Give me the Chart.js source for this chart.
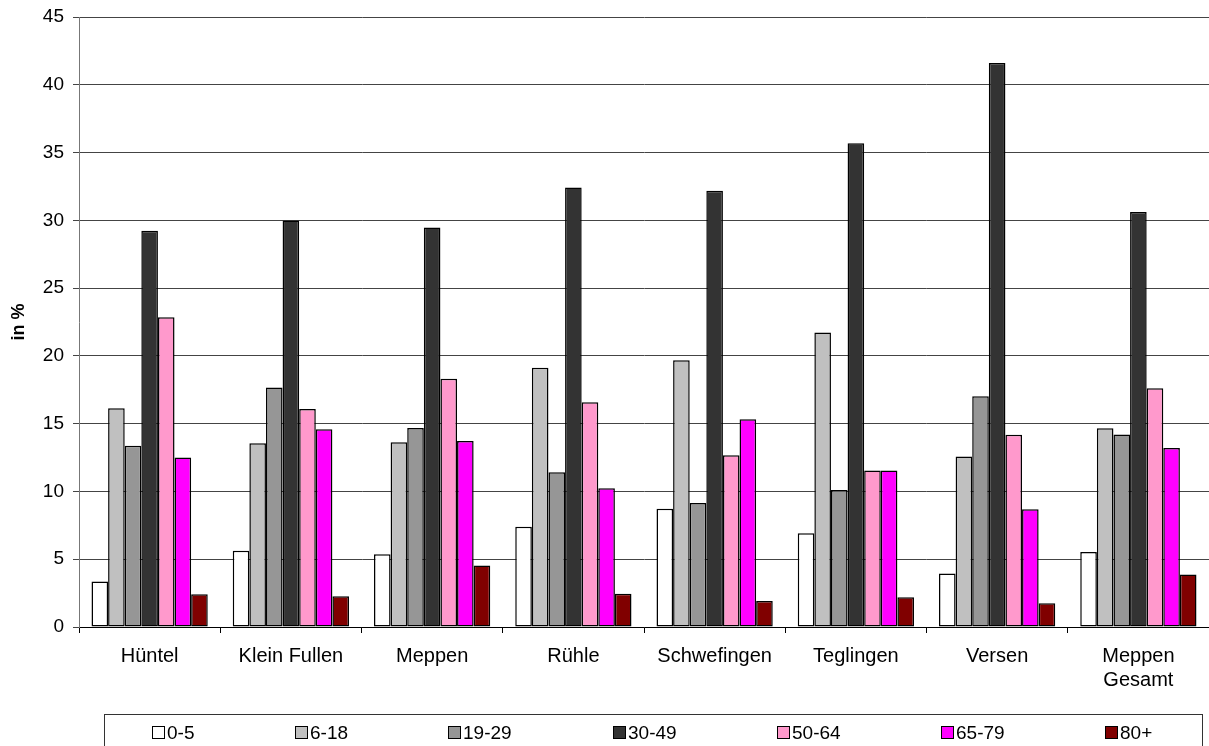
<!DOCTYPE html>
<html>
<head>
<meta charset="utf-8">
<script src="https://cdn.jsdelivr.net/npm/chart.js@4/dist/chart.umd.min.js"></script>
<style>
  html, body { margin: 0; padding: 0; background: #fff; }
  #wrap { width: 1209px; height: 746px; }
</style>
</head>
<body>
<div id="wrap"><canvas id="c" width="1209" height="746"></canvas></div>
<script>
// Village names (x categories)
const categories = ['Hüntel', 'Klein Fullen', 'Meppen', 'Rühle', 'Schwefingen', 'Teglingen', 'Versen', ['Meppen', 'Gesamt']];

// Age groups (series names)
const ageGroups = ['0-5', '6-18', '19-29', '30-49', '50-64', '65-79', '80+'];

// Share of population per age group, in %
const age0to5   = [3.35, 5.63, 5.36, 7.40, 8.73, 6.91, 3.94, 5.53];
const age6to18  = [16.13, 13.55, 13.62, 19.13, 19.67, 21.72, 12.57, 14.66];
const age19to29 = [13.38, 17.66, 14.68, 11.41, 9.15, 10.11, 17.02, 14.21];
const age30to49 = [29.24, 29.98, 29.48, 32.43, 32.19, 35.68, 41.60, 30.61];
const age50to64 = [22.85, 16.08, 18.32, 16.58, 12.67, 11.54, 14.19, 17.61];
const age65to79 = [12.50, 14.58, 13.72, 10.23, 15.32, 11.54, 8.68, 13.20];
const age80plus = [2.41, 2.26, 4.53, 2.46, 1.92, 2.19, 1.75, 3.87];

// Y axis range and step
const yMin = 0, yMax = 45, yStep = 5;
const yTitle = 'in %';

const seriesValues = [age0to5, age6to18, age19to29, age30to49, age50to64, age65to79, age80plus];
const seriesColors = ['#FFFFFF', '#C0C0C0', '#969696', '#333333', '#FF99CC', '#FF00FF', '#800000'];

const FONT = "'Liberation Sans', Arial, Helvetica, sans-serif";

// Boxed legend below the axis, items spaced by text width
const boxedLegend = {
  id: 'boxedLegend',
  afterDraw(chart) {
    const ctx = chart.ctx;
    const box = { x: 104.5, y: 714.5, w: 1098, h: 45 };
    ctx.save();
    ctx.strokeStyle = '#333';
    ctx.lineWidth = 1;
    ctx.strokeRect(box.x, box.y, box.w, box.h);

    ctx.font = '19px ' + FONT;
    ctx.textBaseline = 'middle';
    ctx.textAlign = 'left';
    const sw = 12, gapText = 2, gapItem = 101.5;
    const ds = chart.data.datasets;
    const widths = ds.map(d => sw + gapText + ctx.measureText(d.label).width);
    let x = 152;
    const cy = 733;
    ds.forEach((d, i) => {
      ctx.fillStyle = d.backgroundColor;
      ctx.fillRect(Math.round(x) + 0.5, cy - 6.5, sw, sw);
      ctx.strokeStyle = '#000';
      ctx.lineWidth = 1;
      ctx.strokeRect(Math.round(x) + 0.5, cy - 6.5, sw, sw);
      ctx.fillStyle = '#000';
      ctx.fillText(d.label, Math.round(x) + sw + gapText + 1, cy + 1);
      x += widths[i] + gapItem;
    });
    ctx.restore();
  }
};

new Chart(document.getElementById('c'), {
  type: 'bar',
  data: {
    labels: categories,
    datasets: ageGroups.map((name, i) => ({
      label: name,
      data: seriesValues[i],
      backgroundColor: seriesColors[i],
      borderColor: '#000',
      borderWidth: 1.5,
      borderSkipped: false,
      categoryPercentage: 0.823,
      barPercentage: 1.0
    }))
  },
  options: {
    responsive: false,
    animation: false,
    devicePixelRatio: 1,
    layout: { padding: { top: 0, left: 0, right: 0, bottom: 0 } },
    plugins: {
      legend: { display: false },
      tooltip: { enabled: false },
      title: { display: false }
    },
    scales: {
      x: {
        grid: { offset: true, drawOnChartArea: false, drawTicks: true, tickLength: 6, color: '#000' },
        border: { color: '#000', width: 1 },
        ticks: { color: '#000', font: { family: FONT, size: 20 }, padding: 11, maxRotation: 0, autoSkip: false },
        afterFit(scale) { scale.height = 119; }
      },
      y: {
        min: yMin,
        max: yMax,
        ticks: { stepSize: yStep, color: '#000', font: { family: FONT, size: 19, lineHeight: 1.2 }, padding: 9 },
        grid: { color: '#444', lineWidth: 1, tickLength: 6 },
        border: { color: '#777', width: 1 },
        title: { display: true, text: yTitle, color: '#000', font: { family: FONT, size: 18, weight: 'bold' }, padding: { top: 8, bottom: 0 } },
        afterFit(scale) { scale.width = 79; scale.paddingTop = 17; }
      }
    }
  },
  plugins: [boxedLegend]
});
</script>
</body>
</html>
